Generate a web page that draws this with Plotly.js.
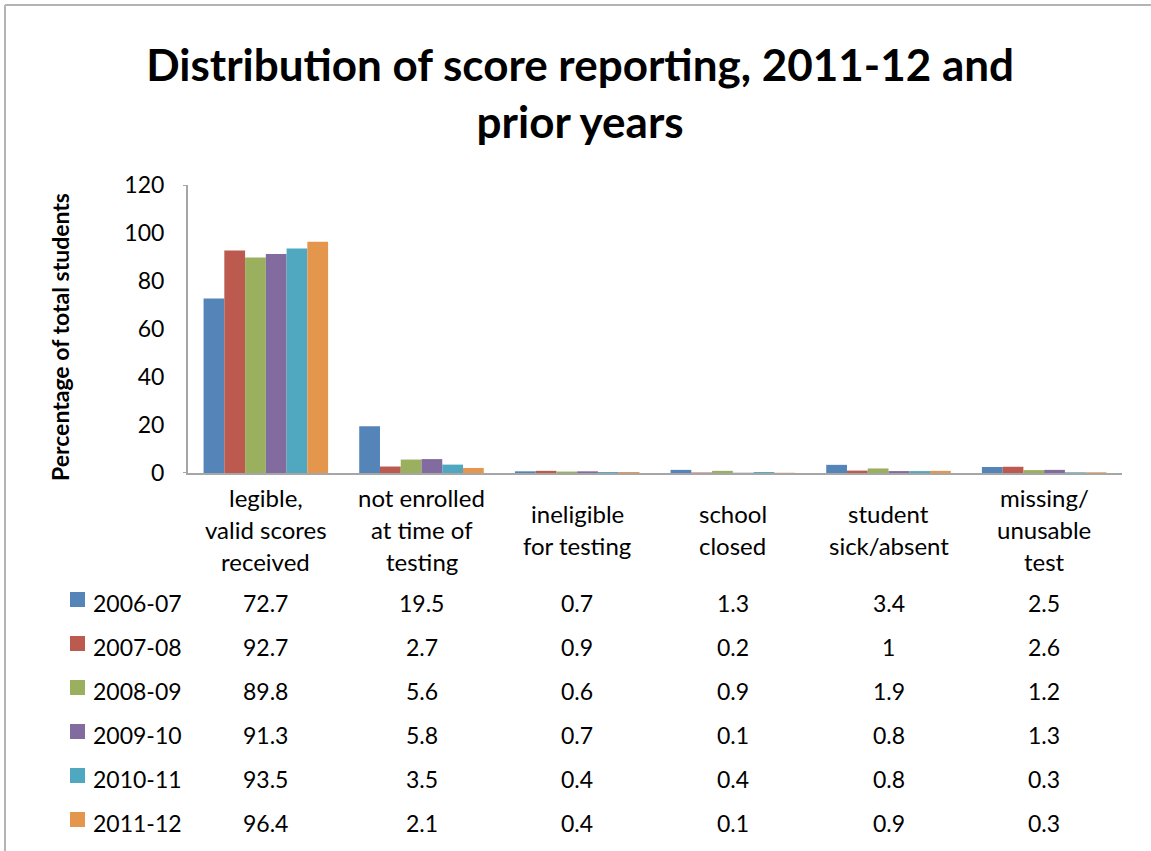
<!DOCTYPE html>
<html>
<head>
<meta charset="utf-8">
<script src="https://cdn.plot.ly/plotly-3.0.1.min.js"></script>
<style>
  html, body { margin: 0; padding: 0; background: #ffffff; }
  #chart { width: 1151px; height: 851px; }
</style>
</head>
<body>
<div id="chart"></div>
<script>
// Reporting categories (x axis) and their wrapped label lines
const categories = [
  'legible, valid scores received',
  'not enrolled at time of testing',
  'ineligible for testing',
  'school closed',
  'student sick/absent',
  'missing/ unusable test'
];
const categoryLines = [
  ['legible,', 'valid scores', 'received'],
  ['not enrolled', 'at time of', 'testing'],
  ['ineligible', 'for testing'],
  ['school', 'closed'],
  ['student', 'sick/absent'],
  ['missing/', 'unusable', 'test']
];

// School years (series)
const years = ['2006-07', '2007-08', '2008-09', '2009-10', '2010-11', '2011-12'];

// Percentage of total students, one array per year
const v2006_07 = [72.7, 19.5, 0.7, 1.3, 3.4, 2.5];
const v2007_08 = [92.7, 2.7, 0.9, 0.2, 1, 2.6];
const v2008_09 = [89.8, 5.6, 0.6, 0.9, 1.9, 1.2];
const v2009_10 = [91.3, 5.8, 0.7, 0.1, 0.8, 1.3];
const v2010_11 = [93.5, 3.5, 0.4, 0.4, 0.8, 0.3];
const v2011_12 = [96.4, 2.1, 0.4, 0.1, 0.9, 0.3];
const seriesValues = [v2006_07, v2007_08, v2008_09, v2009_10, v2010_11, v2011_12];

const colors = ['#5585b8', '#bc5a50', '#9bb05e', '#826b9f', '#4fa8bf', '#e3964c'];

// Plot-area geometry in page pixels, used to place the data table below the axis
const W = 1151, H = 851;
const L = 188, R = 1122, T = 185, B = 473;
const xp = px => (px - L) / (R - L);
const yp = py => (B - py) / (B - T);

const FONT = 'Lato, "Open Sans", sans-serif';
const textColor = '#000000';

const traces = years.map((yr, i) => ({
  type: 'bar',
  name: yr,
  x: categories,
  y: seriesValues[i],
  marker: { color: colors[i], line: { width: 0 } },
  hoverinfo: 'x+y+name'
}));

const annotations = [];
const shapes = [];

// Category labels, each line centred under its group
const catMid = 529, catLineGap = 32;
categories.forEach((cat, c) => {
  const lines = categoryLines[c];
  const first = catMid - (lines.length - 1) * catLineGap / 2;
  lines.forEach((ln, k) => {
    annotations.push({
      xref: 'x', yref: 'paper', x: cat, y: yp(first + k * catLineGap),
      text: ln, showarrow: false, xanchor: 'center', yanchor: 'middle',
      font: { family: FONT, size: 24, color: textColor }
    });
  });
});

// Data table: legend key, year label and one value per category
const rowTop = 603, rowGap = 44;
years.forEach((yr, i) => {
  const ry = rowTop + i * rowGap;
  shapes.push({
    type: 'rect', xref: 'paper', yref: 'paper',
    x0: xp(70), x1: xp(85), y0: yp(ry - 11), y1: yp(ry + 4),
    fillcolor: colors[i], line: { width: 0 }
  });
  annotations.push({
    xref: 'paper', yref: 'paper', x: xp(91), y: yp(ry),
    text: yr, showarrow: false, xanchor: 'left', yanchor: 'middle',
    font: { family: FONT, size: 23, color: textColor }
  });
  categories.forEach((cat, c) => {
    annotations.push({
      xref: 'x', yref: 'paper', x: cat, y: yp(ry),
      text: String(seriesValues[i][c]), showarrow: false,
      xanchor: 'center', yanchor: 'middle',
      font: { family: FONT, size: 23, color: textColor }
    });
  });
});

// Y axis title
annotations.push({
  xref: 'paper', yref: 'paper', x: xp(60), y: yp(337),
  text: '<b>Percentage of total students</b>', textangle: -90,
  showarrow: false, xanchor: 'center', yanchor: 'middle',
  font: { family: FONT, size: 23, color: textColor }
});

// Short stubs at the ends of the value axis
[120, 0].forEach(v => {
  shapes.push({
    type: 'line', xref: 'paper', yref: 'y',
    x0: xp(183), x1: xp(188), y0: v, y1: v,
    line: { color: '#a6a6a6', width: 2 }
  });
});

// Chart frame (top and left edges)
shapes.push({
  type: 'line', xref: 'paper', yref: 'paper',
  x0: xp(5), x1: xp(W + 5), y0: yp(5), y1: yp(5),
  line: { color: '#b4b4b4', width: 2 }
});
shapes.push({
  type: 'line', xref: 'paper', yref: 'paper',
  x0: xp(5), x1: xp(5), y0: yp(5), y1: yp(H + 5),
  line: { color: '#b4b4b4', width: 2 }
});

const layout = {
  width: W, height: H,
  margin: { l: L, r: W - R, t: T, b: H - B, pad: 0 },
  paper_bgcolor: '#ffffff',
  plot_bgcolor: '#ffffff',
  showlegend: false,
  barmode: 'group',
  bargap: 0.2,
  bargroupgap: 0,
  title: {
    text: '<b>Distribution of score reporting, 2011-12 and<br>prior years</b>',
    font: { family: FONT, size: 44, color: '#000000' },
    x: 0.504, xanchor: 'center',
    y: 1 - 81 / H, yanchor: 'middle',
    xref: 'container', yref: 'container'
  },
  xaxis: {
    type: 'category',
    categoryorder: 'array', categoryarray: categories,
    showticklabels: false,
    ticks: '',
    showgrid: false, zeroline: false,
    showline: true, linecolor: '#a6a6a6', linewidth: 2,
    fixedrange: true
  },
  yaxis: {
    range: [0, 120],
    tickvals: [0, 20, 40, 60, 80, 100, 120],
    ticktext: ['0', '20', '40', '60', '80', '100', '120'],
    tickfont: { family: FONT, size: 23, color: textColor },
    ticks: '',
    ticklabelstandoff: 17,
    showgrid: false, zeroline: false,
    showline: true, linecolor: '#a6a6a6', linewidth: 2,
    fixedrange: true
  },
  annotations: annotations,
  shapes: shapes
};

Plotly.newPlot('chart', traces, layout, { displayModeBar: false, staticPlot: true });
</script>
</body>
</html>
